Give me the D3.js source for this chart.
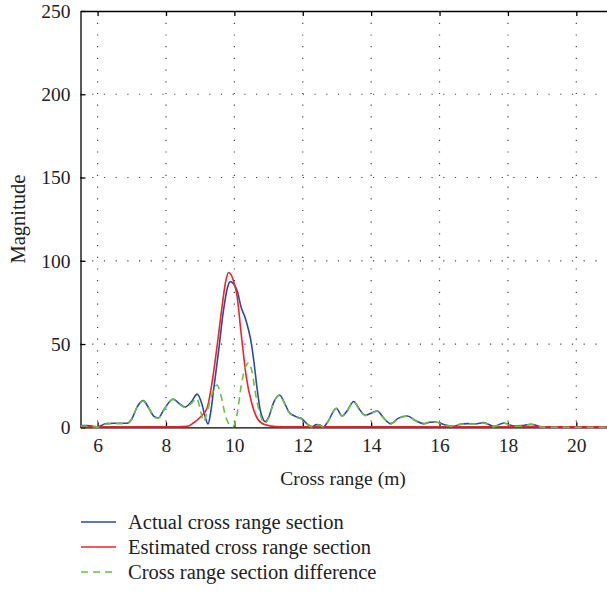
<!DOCTYPE html>
<html><head><meta charset="utf-8">
<script src="https://cdn.jsdelivr.net/npm/d3@7"></script>
<style>body{margin:0;background:#fff}svg{display:block}text{font-family:"Liberation Serif","DejaVu Serif",serif;fill:#222}</style>
</head><body><svg id="c" width="607" height="594"></svg>
<script>
// Cross range (m) positions and magnitudes
const actualX = [5.5,5.7,5.9,6.0,6.12,6.25,6.5,6.85,7.0,7.15,7.33,7.5,7.65,7.77,7.95,8.21,8.4,8.56,8.75,8.91,9.05,9.15,9.23,9.3,9.39,9.54,9.68,9.8,9.88,9.98,10.08,10.2,10.32,10.42,10.5,10.58,10.66,10.75,10.85,10.9,11.0,11.15,11.32,11.48,11.6,11.72,11.85,11.98,12.12,12.27,12.4,12.5,12.6,12.75,12.98,13.15,13.3,13.49,13.65,13.83,14.0,14.18,14.35,14.57,14.8,15.06,15.3,15.54,15.7,15.88,16.15,16.42,16.6,16.81,17.05,17.29,17.59,17.88,18.17,18.4,18.67,19.0,19.5,20.2,21];
const actualY = [1.0,1.0,0.5,0.3,1.2,2.2,2.4,2.4,5,12,16,11.5,6.5,5.6,11,17,14,12.2,15.5,19.9,14,6,2.0,8,22,46,70,84,87.5,86,82,72,65.5,58,50,38,24,11,4.5,3.4,6,15,19.4,14,9,7.2,6,5,2.2,0.4,1.6,1.4,0.2,4,11.4,6.8,10,15.5,11,7.2,8.5,9.8,6,2.2,5.5,6.8,4,2.2,3,3.2,1.5,0.6,1.8,2.2,2.0,2.8,0.6,2.6,0.8,1.0,1.8,0.3,0.2,0.2,0.2];

const estimatedX = [5.5,6.5,7.5,8.3,8.62,8.8,9.0,9.2,9.34,9.49,9.64,9.75,9.83,9.92,10.0,10.07,10.2,10.35,10.5,10.68,10.9,11.2,11.6,13,16,19,21];
const estimatedY = [0.3,0.3,0.3,0.3,0.6,2.6,6,11.4,26,48,72.5,88,93,91,86,80,56,30,15,5,1.5,0.5,0.3,0.3,0.3,0.3,0.3];

const differenceX = [5.5,5.7,5.9,6.0,6.12,6.25,6.5,6.85,7.0,7.15,7.33,7.5,7.65,7.77,7.95,8.21,8.4,8.56,8.75,8.9,9.0,9.1,9.2,9.35,9.49,9.62,9.75,9.95,10.08,10.2,10.32,10.42,10.52,10.62,10.75,10.9,11.0,11.15,11.32,11.48,11.6,11.72,11.85,11.98,12.12,12.27,12.4,12.5,12.6,12.75,12.98,13.15,13.3,13.49,13.65,13.83,14.0,14.18,14.35,14.57,14.8,15.06,15.3,15.54,15.7,15.88,16.15,16.42,16.6,16.81,17.05,17.29,17.59,17.88,18.17,18.4,18.67,19.0,19.5,20.2,21];
const differenceY = [0.8,0.8,0.3,0.1,1.0,2.0,2.2,2.2,4.8,12,15.8,11.3,6.3,5.4,10.8,16.8,13.8,11.9,14.5,17.4,11,3.4,9,20,25.4,18,6,0.2,8,25,36,38.7,33,20,8,2.4,5.5,14.8,19.2,13.8,8.8,7,5.8,4.8,2,0.2,1.4,1.2,0.1,3.8,11.2,6.6,9.8,15.3,10.8,7,8.3,9.6,5.8,2,5.3,6.6,3.8,2,2.8,3,1.3,0.4,1.6,2,1.8,2.6,0.4,2.4,0.6,0.8,1.6,0.1,0,0,0];

const xTicks = [6,8,10,12,14,16,18,20];
const yTicks = [0,50,100,150,200,250];
const legendLabels = ["Actual cross range section","Estimated cross range section","Cross range section difference"];

const svg = d3.select("#c");
const L=80.5, R=610.5, T=11, B=427.3;
const x = d3.scaleLinear().domain([5.5,21]).range([L,R]);
const y = d3.scaleLinear().domain([0,250]).range([B,T]);
const FS = 19.5, FL = 20.5;

// grid
const g = svg.append("g");
g.selectAll(".vg").data(xTicks).join("line")
 .attr("x1",d=>x(d)).attr("x2",d=>x(d)).attr("y1",T).attr("y2",B)
 .attr("stroke","#444").attr("stroke-width",1.2).attr("stroke-dasharray","1.2,10.5");
g.selectAll(".hg").data(yTicks.filter(d=>d>0&&d<250)).join("line")
 .attr("x1",L).attr("x2",R).attr("y1",d=>y(d)).attr("y2",d=>y(d))
 .attr("stroke","#444").attr("stroke-width",1.2).attr("stroke-dasharray","1.2,10.5");

// axes (ticks inward)
const axB = d3.axisBottom(x).tickValues(xTicks).tickSize(-5).tickSizeOuter(0).tickPadding(11).tickFormat(d3.format("d"));
const axL = d3.axisLeft(y).tickValues(yTicks).tickSize(-5).tickSizeOuter(0).tickPadding(10).tickFormat(d3.format("d"));
const axT = d3.axisTop(x).tickValues(xTicks).tickSize(-5).tickSizeOuter(0).tickFormat("");
function style(sel){sel.select(".domain").attr("stroke","#000").attr("stroke-width",1.3);
 sel.selectAll(".tick line").attr("stroke","#000").attr("stroke-width",1.3);
 sel.selectAll(".tick text").attr("font-size",FS).attr("font-family","Liberation Serif, serif").attr("fill","#222");}
svg.append("g").attr("transform",`translate(0,${B})`).call(axB).call(style);
svg.append("g").attr("transform",`translate(${L},0)`).call(axL).call(style);
svg.append("g").attr("transform",`translate(0,${T})`).call(axT).call(style);

// series
svg.append("clipPath").attr("id","clip").append("rect").attr("x",L).attr("y",T-2).attr("width",R-L).attr("height",B-T+4);
const line = d3.line().x(d=>x(d[0])).y(d=>y(d[1])).curve(d3.curveMonotoneX);
const series = [
 {xs:actualX, ys:actualY, color:"#2b4aa6", dash:null},
 {xs:estimatedX, ys:estimatedY, color:"#f0222a", dash:null},
 {xs:differenceX, ys:differenceY, color:"#6cbf4a", dash:"7,5"}
];
const sg = svg.append("g").attr("clip-path","url(#clip)");
series.forEach(s=>{
 sg.append("path").datum(s.xs.map((v,i)=>[v,s.ys[i]]))
  .attr("d",line).attr("fill","none").attr("stroke",s.color).attr("stroke-width",1.6)
  .attr("stroke-dasharray",s.dash);
});

// labels
svg.append("text").attr("x",343).attr("y",485).attr("text-anchor","middle").attr("font-size",FS).text("Cross range (m)");
svg.append("text").attr("transform",`translate(25,${(T+B)/2}) rotate(-90)`).attr("text-anchor","middle").attr("font-size",FL).text("Magnitude");

// legend
const lg = svg.append("g");
series.forEach((s,i)=>{
 const yy = 522 + i*25;
 lg.append("line").attr("x1",81).attr("x2",116).attr("y1",yy).attr("y2",yy)
  .attr("stroke",s.color).attr("stroke-width",1.3).attr("stroke-dasharray",s.dash);
 lg.append("text").attr("x",128).attr("y",yy+6.5).attr("font-size",FL).text(legendLabels[i]);
});
</script></body></html>
